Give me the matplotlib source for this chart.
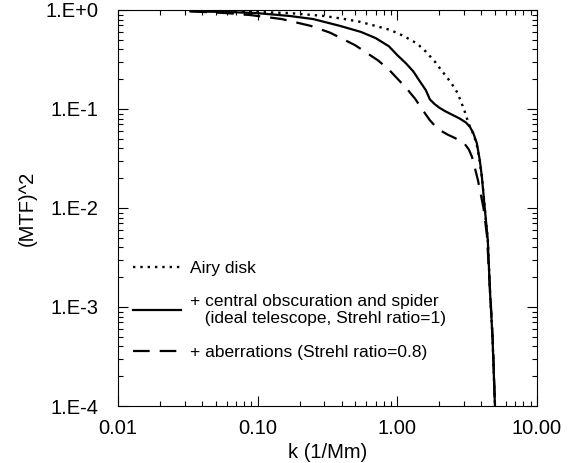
import matplotlib
matplotlib.use("Agg")
import matplotlib.pyplot as plt
import matplotlib.ticker as mticker
import numpy as np

plt.rcParams["font.family"] = ["Liberation Sans", "DejaVu Sans"]

# values
k_airy = [0.033, 0.05, 0.1, 0.17, 0.3, 0.42, 0.54, 0.7, 0.885, 1.1, 1.38,
          1.6, 1.86, 2.05, 2.26, 2.45, 2.67, 2.85, 3.05, 3.2, 3.31, 3.5,
          3.7, 3.9, 4.05, 4.25, 4.45, 4.6, 4.8, 5.0]
mtf_airy = [0.98, 0.975, 0.955, 0.93, 0.87, 0.81, 0.76, 0.69, 0.63, 0.55,
            0.46, 0.38, 0.30, 0.25, 0.21, 0.18, 0.149, 0.12, 0.093, 0.075,
            0.066, 0.056, 0.044, 0.029, 0.0195, 0.0092, 0.0047, 0.0015,
            0.0005, 0.0001]

k_obs = [0.033, 0.06, 0.099, 0.17, 0.25, 0.39, 0.55, 0.70, 0.87, 1.0, 1.15,
         1.3, 1.45, 1.6, 1.71, 1.85, 2.0, 2.2, 2.45, 2.8, 3.1, 3.31, 3.5,
         3.71, 3.9, 4.03, 4.24, 4.44, 4.6, 4.8, 5.0]
mtf_obs = [0.97, 0.955, 0.93, 0.87, 0.81, 0.69, 0.60, 0.52, 0.43, 0.35, 0.29,
           0.24, 0.19, 0.155, 0.125, 0.112, 0.103, 0.095, 0.088, 0.080, 0.073,
           0.066, 0.057, 0.045, 0.030, 0.0206, 0.0095, 0.0048, 0.0015,
           0.0005, 0.0001]

k_ab = [0.033, 0.06, 0.088, 0.149, 0.241, 0.33, 0.50, 0.727, 0.87, 1.01,
        1.17, 1.34, 1.5, 1.71, 1.87, 2.02, 2.3, 2.58, 2.85, 3.05, 3.25, 3.42,
        3.6, 3.78, 4.14, 4.38, 4.65, 4.85, 5.0]
mtf_ab = [0.97, 0.93, 0.89, 0.81, 0.69, 0.59, 0.44, 0.31, 0.25, 0.20,
          0.16, 0.127, 0.10, 0.077, 0.067, 0.061, 0.055, 0.051, 0.047, 0.044,
          0.039, 0.033, 0.025, 0.019, 0.010, 0.0053, 0.0012, 0.0004, 0.0001]

labels = ["Airy disk",
          "+ central obscuration and spider\n   (ideal telescope, Strehl ratio=1)",
          "+ aberrations (Strehl ratio=0.8)"]

xticks = [0.01, 0.1, 1.0, 10.0]
yticks = [1e-4, 1e-3, 1e-2, 1e-1, 1e0]

fig = plt.figure(figsize=(5.82, 4.63), dpi=100)
ax = fig.add_axes([118 / 582, 57 / 463, 419 / 582, 396 / 463])

ax.plot(k_airy, mtf_airy, color="black", lw=1.7, ls=(0, (1, 2.1)), label=labels[0])
ax.plot(k_obs, mtf_obs, color="black", lw=1.6, label=labels[1])
ax.plot(k_ab, mtf_ab, color="black", lw=1.6, ls=(0, (7.5, 4.5)), label=labels[2])

ax.set_xscale("log")
ax.set_yscale("log")
ax.set_xlim(0.01, 10)
ax.set_ylim(1e-4, 1)

ax.set_xticks(xticks)
ax.xaxis.set_major_formatter(mticker.FuncFormatter(lambda v, p: "%.2f" % v))
ax.set_yticks(yticks)
ax.yaxis.set_major_formatter(
    mticker.FuncFormatter(lambda v, p: "1.E%+d" % int(round(np.log10(v)))))
ax.xaxis.set_minor_formatter(mticker.NullFormatter())
ax.yaxis.set_minor_formatter(mticker.NullFormatter())

ax.tick_params(which="both", direction="in", top=True, right=True,
               labelsize=14.5, width=0.8)
ax.tick_params(which="major", length=7)
ax.tick_params(which="minor", length=3.5)
ax.tick_params(axis="x", which="major", pad=9)
ax.tick_params(axis="y", which="major", pad=14)
for s in ax.spines.values():
    s.set_linewidth(0.8)

ax.set_xlabel("k (1/Mm)", fontsize=14.5, labelpad=4)
ax.set_ylabel("(MTF)^2", fontsize=14.5, labelpad=6)

ax.legend(loc="lower left", bbox_to_anchor=(0.035, 0.117), frameon=False,
          fontsize=12.5, handlelength=2.8, handletextpad=0.5,
          labelspacing=1.05, borderpad=0, borderaxespad=0)

fig.savefig("out.png", dpi=100)
